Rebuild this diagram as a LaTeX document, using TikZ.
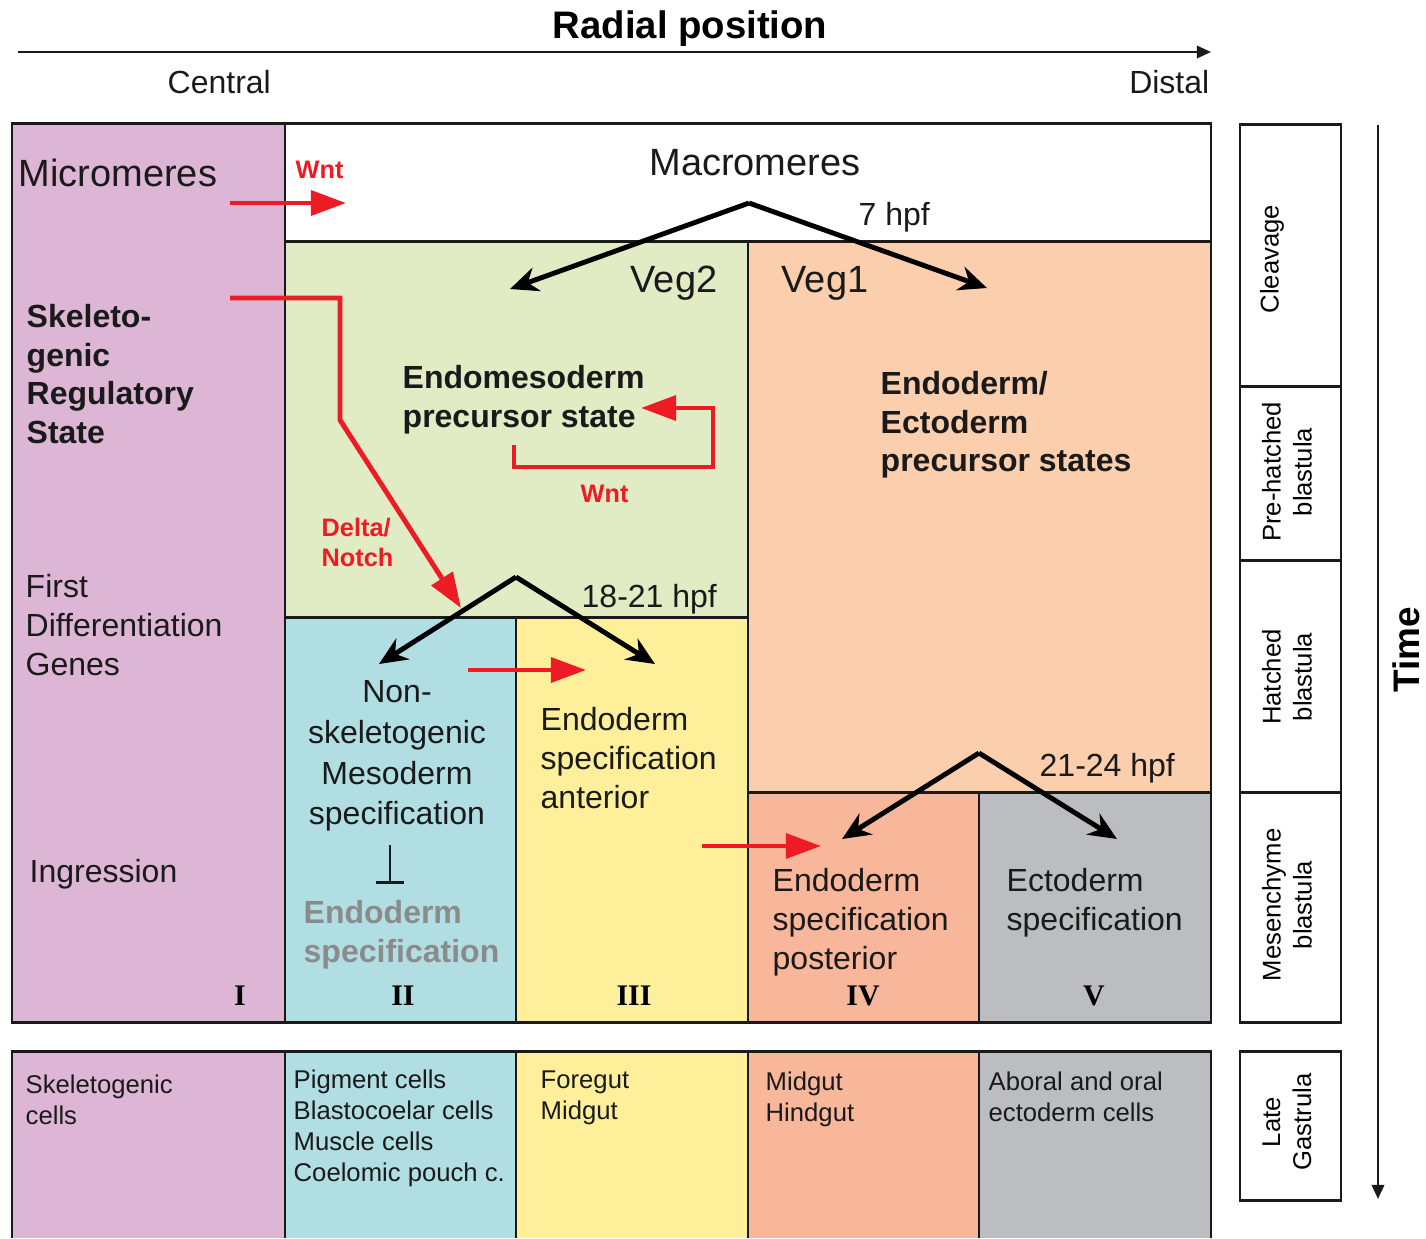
\documentclass[tikz,border=0pt]{standalone}
\usepackage{fontspec}
\setmainfont{Liberation Sans}
\newfontfamily\romanfont{Liberation Serif}
\usepackage{xcolor}
\usepackage{tikz}
\usetikzlibrary{arrows.meta}
\definecolor{lineInk}{HTML}{1A1A1A}
\definecolor{lineRed}{HTML}{ED1C24}
\definecolor{microPink}{HTML}{DDB6D6}
\definecolor{vegGreen}{HTML}{E1EBC4}
\definecolor{vegPeach}{HTML}{FBCEAE}
\definecolor{tierBlue}{HTML}{B0DEE3}
\definecolor{tierYellow}{HTML}{FEF09A}
\definecolor{tierSalmon}{HTML}{F8B79A}
\definecolor{tierGrey}{HTML}{BCBDC1}
\definecolor{fadedInk}{HTML}{8B8B8B}

\begin{document}
\begin{tikzpicture}[
  x=0.01cm, y=-0.01cm,
  txt/.style={inner sep=0pt, anchor=west, align=left, text=lineInk},
  bigtext/.style={font=\fontsize{10.8}{13}\selectfont},
  midtext/.style={font=\fontsize{9.1}{11.1}\selectfont},
  boldtext/.style={font=\fontsize{9.1}{11}\selectfont\bfseries},
  celltext/.style={font=\fontsize{7.3}{8.8}\selectfont},
  redlabel/.style={inner sep=0pt, anchor=west, align=left, font=\fontsize{7.2}{8.5}\selectfont\bfseries, text=lineRed},
  numeral/.style={inner sep=0pt, font=\fontsize{8.5}{10}\selectfont\romanfont\bfseries},
  stagetext/.style={inner sep=0pt, rotate=90, align=center, font=\fontsize{7.3}{8.8}\selectfont},
  region/.style={draw=lineInk, line width=0.85pt},
  splitarrow/.style={-{Stealth[length=8pt,width=7pt]}, line width=1.4pt, draw=black},
  redarrow/.style={-{Triangle[length=10pt,width=7pt]}, line width=1.4pt, draw=lineRed},
  axisarrow/.style={-{Triangle[length=4pt,width=3.5pt]}, line width=0.7pt, draw=lineInk}
]
  \useasboundingbox (0,0) rectangle (1426,1238);

  % radial axis
  \coordinate (radStart) at (18,52);
  \coordinate (radEnd) at (1211,52);
  \draw[axisarrow] (radStart) -- (radEnd);
  \node[font=\fontsize{10.9}{13}\selectfont\bfseries] (radial) at (690,29) {Radial position};
  \node[txt, midtext] (central) at (167,82) {Central};
  \node[txt, midtext, anchor=east] (distal) at (1210,82) {Distal};

  % regions of the embryo
  \filldraw[region, fill=microPink] (12,123) rectangle (285,1022);
  \filldraw[region, fill=white] (285,123) rectangle (1211,241);
  \filldraw[region, fill=vegGreen] (285,241) rectangle (748,617);
  \filldraw[region, fill=vegPeach] (748,241) rectangle (1211,792);
  \filldraw[region, fill=tierBlue] (285,617) rectangle (516,1022);
  \filldraw[region, fill=tierYellow] (516,617) rectangle (748,1022);
  \filldraw[region, fill=tierSalmon] (748,792) rectangle (979,1022);
  \filldraw[region, fill=tierGrey] (979,792) rectangle (1211,1022);

  % late gastrula row
  \fill[microPink] (12,1051) rectangle (285,1238);
  \fill[tierBlue] (285,1051) rectangle (516,1238);
  \fill[tierYellow] (516,1051) rectangle (748,1238);
  \fill[tierSalmon] (748,1051) rectangle (979,1238);
  \fill[tierGrey] (979,1051) rectangle (1211,1238);
  \draw[region] (12,1238) -- (12,1051) -- (1211,1051) -- (1211,1238);
  \foreach \xcol in {285,516,748,979}
    \draw[region] (\xcol,1051) -- (\xcol,1238);

  % stages
  \draw[region] (1240,124) rectangle (1341,386);
  \draw[region] (1240,386) rectangle (1341,560);
  \draw[region] (1240,560) rectangle (1341,792);
  \draw[region] (1240,792) rectangle (1341,1022);
  \draw[region] (1240,1051) rectangle (1341,1200);
  \node[stagetext] (cleavage) at (1272,259) {Cleavage};
  \node[stagetext] (prehatched) at (1287,472) {Pre-hatched\\blastula};
  \node[stagetext] (hatched) at (1287,677) {Hatched\\blastula};
  \node[stagetext] (mesenchyme) at (1287,905) {Mesenchyme\\blastula};
  \node[stagetext] (lategastrula) at (1287,1122) {Late\\Gastrula};
  \coordinate (timeStart) at (1378,125);
  \coordinate (timeEnd) at (1378,1199);
  \draw[axisarrow] (timeStart) -- (timeEnd);
  \node[rotate=90, font=\fontsize{10.5}{13}\selectfont\bfseries] (time) at (1406,650) {Time};

  % texts
  \node[txt, bigtext] (micromeres) at (18,173) {Micromeres};
  \node[txt, bigtext, anchor=center] (macromeres) at (755,163) {Macromeres};
  \node[txt, midtext] (hpf7) at (858,217) {7 hpf};
  \node[txt, bigtext] (veg2) at (630,283) {Veg2};
  \node[txt, bigtext] (veg1) at (781,283) {Veg1};
  \node[txt, boldtext] (skeletal) at (26,374) {Skeleto-\\genic\\Regulatory\\State};
  \node[txt, boldtext] (endomeso) at (402,400) {Endomesoderm\\precursor state};
  \node[txt, boldtext] (endoecto) at (880,425) {Endoderm/\\Ectoderm\\precursor states};
  \node[txt, midtext] (firstdiff) at (25,625) {First\\Differentiation\\Genes};
  \node[txt, midtext] (hpf18) at (581,599) {18-21 hpf};
  \node[txt, font=\fontsize{9.1}{11.6}\selectfont, align=center, anchor=center] (nonskel) at (397,756) {Non-\\skeletogenic\\Mesoderm\\specification};
  \node[txt, midtext] (endoant) at (540,758) {Endoderm\\specification\\anterior};
  \node[txt, boldtext, text=fadedInk] (endofaded) at (303,935) {Endoderm\\specification};
  \node[txt, midtext] (ingression) at (29,874) {Ingression};
  \node[txt, midtext] (hpf21) at (1039,768) {21-24 hpf};
  \node[txt, midtext] (endopost) at (772,922) {Endoderm\\specification\\posterior};
  \node[txt, midtext] (ectospec) at (1006,903) {Ectoderm\\specification};

  \node[numeral] (numI) at (240,996) {I};
  \node[numeral] (numII) at (403,996) {II};
  \node[numeral] (numIII) at (634,996) {III};
  \node[numeral] (numIV) at (863,996) {IV};
  \node[numeral] (numV) at (1094,996) {V};

  \node[txt, celltext] (skelcells) at (25,1100) {Skeletogenic\\cells};
  \node[txt, celltext] (mesocells) at (293,1128) {Pigment cells\\Blastocoelar cells\\Muscle cells\\Coelomic pouch c.};
  \node[txt, celltext] (foregut) at (540,1098) {Foregut\\Midgut};
  \node[txt, celltext] (midgut) at (765,1099) {Midgut\\Hindgut};
  \node[txt, celltext] (ectocells) at (988,1097) {Aboral and oral\\ectoderm cells};

  % signals
  \node[redlabel] (wntTop) at (295,170) {Wnt};
  \node[redlabel] (wntLoop) at (580,494) {Wnt};
  \node[redlabel] (deltanotch) at (321,542) {Delta/\\Notch};

  \coordinate (wntFrom) at (230,203);
  \coordinate (wntTo) at (346,203);
  \draw[redarrow] (wntFrom) -- (wntTo);
  \coordinate (dnFrom) at (230,298);
  \coordinate (dnTo) at (461,608);
  \draw[redarrow] (dnFrom) -- (340,298) -- (340,420) -- (dnTo);
  \coordinate (loopFrom) at (514,445);
  \coordinate (loopTo) at (641,408);
  \draw[redarrow] (loopFrom) -- (514,467) -- (713,467) -- (713,408) -- (loopTo);
  \coordinate (antFrom) at (468,670);
  \coordinate (antTo) at (586,670);
  \draw[redarrow] (antFrom) -- (antTo);
  \coordinate (postFrom) at (702,846);
  \coordinate (postTo) at (821,846);
  \draw[redarrow] (postFrom) -- (postTo);

  % lineage splits
  \coordinate (apexMacro) at (749,203);
  \coordinate (tipVeg2) at (510,289);
  \coordinate (tipVeg1) at (987,288);
  \draw[splitarrow] (apexMacro) -- (tipVeg2);
  \draw[splitarrow] (apexMacro) -- (tipVeg1);
  \coordinate (apexVeg2) at (516,577);
  \coordinate (tipMeso) at (379,664);
  \coordinate (tipAnt) at (655,664);
  \draw[splitarrow] (apexVeg2) -- (tipMeso);
  \draw[splitarrow] (apexVeg2) -- (tipAnt);
  \coordinate (apexVeg1) at (979,753);
  \coordinate (tipPost) at (842,839);
  \coordinate (tipEcto) at (1117,839);
  \draw[splitarrow] (apexVeg1) -- (tipPost);
  \draw[splitarrow] (apexVeg1) -- (tipEcto);

  % repression
  \coordinate (repFrom) at (390,845);
  \coordinate (repTo) at (390,884);
  \draw[-{Bar[width=8pt]}, line width=0.8pt, draw=lineInk] (repFrom) -- (repTo);
\end{tikzpicture}
\end{document}
